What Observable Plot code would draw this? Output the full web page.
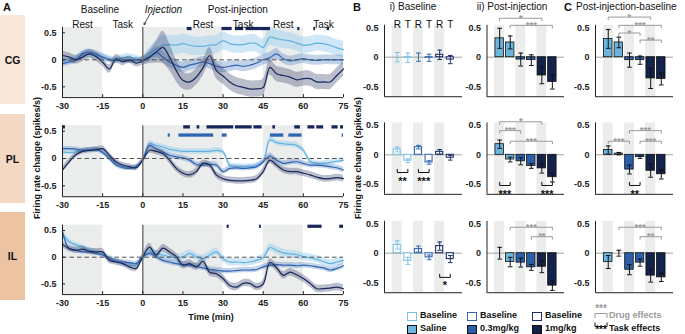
<!DOCTYPE html>
<html><head><meta charset="utf-8">
<script src="https://cdn.jsdelivr.net/npm/d3@7"></script>
<script src="https://cdn.jsdelivr.net/npm/@observablehq/plot@0.6"></script>
<style>
body{margin:0;background:#fff;}
#fig{position:relative;width:685px;height:334px;overflow:hidden;font-family:"Liberation Sans",Arial,sans-serif;color:#111;background:#fff;}
#fig .t{position:absolute;white-space:nowrap;line-height:1;}
#fig .box{position:absolute;display:flex;align-items:center;justify-content:center;font-weight:bold;font-size:10.5px;}
</style></head><body><div id="fig"></div>
<script>
// ---------------- DATA ----------------
const time = [-30,-27.5,-25,-22.5,-20,-17.5,-15,-12.5,-10,-7.5,-5,-2.5,0,2.5,5,7.5,10,12.5,15,17.5,20,22.5,25,27.5,30,32.5,35,37.5,40,42.5,45,47.5,50,52.5,55,57.5,60,62.5,65,67.5,70,72.5,75];

const cgSaline = [-0.04,-0.01,0.02,0.08,0.11,0.08,0.05,0.02,0.00,0.04,0.05,0.02,0.00, 0.11,0.20,0.27,0.28,0.27,0.30,0.27,0.25,0.25,0.27, 0.28,0.35,0.30,0.28,0.28,0.31,0.30,0.23,0.42,0.39, 0.37,0.35,0.31,0.27,0.28,0.31,0.30,0.27,0.22,0.19];
const cgSalineSem = [0.07,0.07,0.07,0.07,0.07,0.07,0.07,0.06,0.06,0.06,0.06,0.06,0.07, 0.12,0.15,0.17,0.18,0.18,0.18,0.18,0.17,0.17,0.17, 0.17,0.17,0.16,0.16,0.16,0.16,0.16,0.15,0.16,0.16, 0.16,0.15,0.15,0.15,0.15,0.15,0.15,0.15,0.15,0.15];
const cgLow = [-0.07,-0.04,-0.01,0.11,0.14,0.11,0.05,0.00,-0.01,0.00,-0.02,0.00,-0.01, 0.05,0.14,0.05,-0.04,-0.10,-0.14,-0.10,-0.07,-0.04,-0.07, -0.12,-0.14,-0.12,-0.10,-0.12,-0.10,-0.06,0.00,0.04,0.11, 0.02,-0.02,0.00,0.02,0.00,-0.01,0.00,0.00,0.00,0.00];
const cgLowSem = [0.06,0.06,0.06,0.06,0.06,0.06,0.06,0.05,0.05,0.05,0.05,0.05,0.06, 0.08,0.10,0.10,0.10,0.10,0.10,0.10,0.10,0.10,0.10, 0.10,0.10,0.10,0.10,0.10,0.10,0.10,0.10,0.10,0.10, 0.09,0.09,0.09,0.09,0.09,0.09,0.09,0.09,0.09,0.09];
const cgHigh = [0.08,0.05,0.00,0.05,0.11,0.06,-0.04,-0.17,0.02,-0.04,0.00,-0.06,-0.02, 0.05,0.14,0.23,0.05,-0.20,-0.38,-0.41,-0.32,-0.15,0.08, -0.20,-0.30,-0.41,-0.48,-0.51,-0.54,-0.54,-0.51,-0.14,-0.26, -0.29,-0.32,-0.37,-0.35,-0.35,-0.41,-0.41,-0.41,-0.29,-0.17];
const cgHighSem = [0.08,0.08,0.08,0.08,0.08,0.08,0.08,0.08,0.08,0.07,0.07,0.07,0.08, 0.12,0.20,0.30,0.25,0.20,0.16,0.15,0.15,0.15,0.15, 0.15,0.15,0.15,0.15,0.15,0.15,0.15,0.15,0.14,0.14, 0.14,0.14,0.14,0.14,0.14,0.14,0.14,0.14,0.14,0.14];

const plSaline = [0.12,0.11,0.12,0.15,0.16,0.16,0.12,0.01,-0.09,-0.15,-0.17,-0.17,-0.03, 0.27,0.24,0.21,0.17,0.15,0.13,0.13,0.13,0.13,0.13, 0.15,0.12,-0.12,-0.15,-0.15,-0.15,-0.13,-0.06,0.34,0.29, 0.27,0.26,0.24,0.15,-0.05,-0.09,-0.09,-0.07,-0.05,-0.03];
const plSalineSem = [0.05,0.04,0.04,0.04,0.04,0.04,0.04,0.04,0.04,0.04,0.04,0.04,0.04, 0.05,0.05,0.05,0.05,0.05,0.05,0.05,0.05,0.05,0.05, 0.05,0.05,0.05,0.05,0.05,0.05,0.05,0.05,0.05,0.05, 0.05,0.05,0.05,0.05,0.05,0.05,0.05,0.05,0.05,0.05];
const plLow = [0.18,0.18,0.17,0.15,0.15,0.17,0.11,0.00,-0.12,-0.17,-0.18,-0.15,-0.03, 0.24,0.18,0.12,0.06,0.03,0.01,-0.03,-0.11,-0.12,-0.11, -0.12,-0.24,-0.18,-0.17,-0.18,-0.17,-0.15,-0.06,0.05,-0.03, -0.09,-0.07,-0.06,-0.09,-0.12,-0.12,-0.13,-0.15,-0.17,-0.21];
const plLowSem = [0.04,0.04,0.04,0.04,0.04,0.04,0.04,0.04,0.04,0.04,0.04,0.04,0.04, 0.05,0.05,0.05,0.05,0.05,0.05,0.05,0.05,0.05,0.05, 0.05,0.05,0.05,0.05,0.05,0.05,0.05,0.05,0.05,0.05, 0.05,0.05,0.05,0.05,0.05,0.05,0.05,0.05,0.05,0.05];
const plHigh = [-0.21,-0.06,0.07,0.13,0.15,0.16,0.18,0.06,-0.06,-0.12,-0.15,-0.17,-0.03, 0.15,0.13,0.09,-0.03,-0.18,-0.27,-0.30,-0.24,-0.09,-0.12, -0.30,-0.37,-0.40,-0.41,-0.41,-0.40,-0.37,-0.24,-0.03,-0.12, -0.21,-0.24,-0.24,-0.27,-0.30,-0.34,-0.37,-0.37,-0.35,-0.37];
const plHighSem = [0.05,0.05,0.05,0.05,0.05,0.05,0.05,0.05,0.05,0.05,0.05,0.05,0.05, 0.06,0.06,0.06,0.06,0.06,0.06,0.06,0.06,0.06,0.06, 0.06,0.06,0.06,0.06,0.06,0.06,0.06,0.06,0.06,0.06, 0.06,0.06,0.06,0.06,0.06,0.06,0.06,0.06,0.06,0.06];

const ilSaline = [0.44,0.29,0.23,0.19,0.13,0.10,0.04,-0.01,-0.06,-0.12,-0.15,-0.15,-0.03, 0.10,0.07,0.04,0.01,-0.01,0.01,0.07,0.01,-0.03,0.04, 0.10,-0.03,-0.09,-0.09,-0.10,-0.09,-0.06,-0.01,0.18,0.13, 0.08,0.06,0.05,0.01,-0.01,-0.04,-0.08,-0.12,-0.09,-0.06];
const ilSalineSem = [0.06,0.06,0.05,0.05,0.05,0.05,0.05,0.05,0.05,0.05,0.05,0.05,0.05, 0.07,0.07,0.07,0.07,0.07,0.07,0.07,0.07,0.07,0.07, 0.07,0.07,0.07,0.07,0.07,0.07,0.07,0.07,0.07,0.07, 0.07,0.07,0.07,0.07,0.07,0.07,0.07,0.07,0.07,0.07];
const ilLow = [0.48,0.16,0.13,0.10,0.10,0.07,0.04,-0.03,-0.08,-0.09,-0.10,-0.12,0.01, 0.07,0.01,-0.06,-0.09,-0.12,-0.14,-0.15,-0.17,-0.20,-0.23, -0.24,-0.26,-0.26,-0.25,-0.24,-0.24,-0.23,-0.18,-0.15,-0.14, -0.15,-0.15,-0.16,-0.15,-0.16,-0.18,-0.20,-0.24,-0.21,-0.16];
const ilLowSem = [0.05,0.04,0.04,0.04,0.04,0.04,0.04,0.04,0.04,0.04,0.04,0.04,0.04, 0.05,0.05,0.05,0.05,0.05,0.05,0.05,0.05,0.05,0.05, 0.05,0.05,0.05,0.05,0.05,0.05,0.05,0.05,0.05,0.05, 0.05,0.05,0.05,0.05,0.05,0.05,0.05,0.05,0.05,0.05];
const ilHigh = [0.24,0.16,0.13,0.15,0.11,0.10,0.10,-0.06,-0.09,-0.12,-0.18,-0.21,0.01, 0.19,0.04,0.17,0.10,0.01,-0.15,-0.12,-0.18,-0.08,-0.28, -0.31,-0.40,-0.53,-0.56,-0.49,-0.49,-0.56,-0.50,-0.10,-0.20, -0.34,-0.28,-0.33,-0.40,-0.49,-0.59,-0.59,-0.58,-0.56,-0.59];
const ilHighSem = [0.06,0.06,0.06,0.06,0.06,0.06,0.06,0.06,0.06,0.06,0.06,0.06,0.06, 0.07,0.07,0.07,0.07,0.07,0.07,0.07,0.07,0.07,0.07, 0.07,0.07,0.07,0.07,0.07,0.07,0.07,0.07,0.07,0.07, 0.07,0.07,0.07,0.07,0.07,0.07,0.07,0.07,0.07,0.07];

const restPeriods = [[-30,-15],[0,30],[45,60]];
const phaseLabels = ["Rest","Task","Rest","Task","Rest","Task"];
const phaseCenters = [-22.5,-7.5,22.5,37.5,52.5,67.5];
const epochLabels = ["Baseline","Post-injection"];
const epochCenters = [-16,35.5];
const xTicksA = [-30,-15,0,15,30,45,60,75];
const yTicks = [-0.5,0,0.5];

// significance segments [start, end] (min)
const cgSigHigh = [[16.6,18.4],[29.6,33.4],[34.6,37.7],[38.6,47.7],[57.9,58.7],[63.9,64.6],[68.9,69.8]];
const cgSigLow = [];
const plSigHigh = [[-30,-28.9],[15.3,17.8],[20.3,21.3],[24,34],[34.6,40.9],[41.5,44.6],[48.6,49.6],[56.8,58.9],[61.7,64.3],[65,67.6],[70.7,73],[73.9,75]];
const plSigLow = [[9.5,10.3],[13.5,26.5],[29.7,31.5],[47.7,52.7],[54.6,59.5],[74.5,75]];
const ilSigHigh = [[31.5,32.3],[43.6,44.3],[61.7,67],[73.6,75]];
const ilSigLow = [];

// Bar charts: order = Saline R, Saline T, 0.3 R, 0.3 T, 1mg R, 1mg T
const barLetters = ["R","T","R","T","R","T"];
const barGroup = [0,0,1,1,2,2];
const baseCG = [0.00,-0.01,0.00,-0.01,0.04,-0.04], baseCGsem = [0.08,0.08,0.07,0.06,0.08,0.07];
const basePL = [0.09,-0.10,0.13,-0.13,0.05,-0.05], basePLsem = [0.04,0.03,0.03,0.03,0.04,0.04];
const baseIL = [0.14,-0.13,0.07,-0.07,0.12,-0.10], baseILsem = [0.07,0.06,0.05,0.04,0.07,0.06];
const postCG = [0.32,0.25,-0.04,-0.05,-0.31,-0.42], postCGsem = [0.17,0.11,0.11,0.09,0.14,0.12];
const postPL = [0.18,-0.08,-0.11,-0.19,-0.23,-0.38], postPLsem = [0.07,0.04,0.06,0.04,0.08,0.08];
const postIL = [0.00,-0.15,-0.16,-0.24,-0.23,-0.55], postILsem = [0.10,0.08,0.075,0.05,0.10,0.08];
const diffCG = [0.31,0.25,-0.05,-0.05,-0.36,-0.37], diffCGsem = [0.16,0.09,0.12,0.07,0.17,0.10];
const diffPL = [0.08,0.02,-0.25,-0.04,-0.27,-0.33], diffPLsem = [0.07,0.02,0.075,0.02,0.11,0.08];
const diffIL = [-0.15,0.00,-0.28,-0.16,-0.38,-0.41], diffILsem = [0.11,0.05,0.085,0.06,0.11,0.07];

// drug-effect brackets: [column, row, barA, barB, level, stars]
const drugBrackets = [
  [1,0,0,4,0.66,"*"],[1,0,1,5,0.54,"***"],
  [2,0,0,4,0.68,"*"],[2,0,1,5,0.54,"***"],[2,0,1,3,0.41,"*"],[2,0,3,5,0.29,"**"],
  [1,1,0,4,0.56,"*"],[1,1,0,2,0.41,"***"],[1,1,1,5,0.23,"***"],
  [2,1,2,5,0.41,"***"],[2,1,0,2,0.23,"***"],[2,1,3,5,0.23,"***"],
  [1,2,1,5,0.44,"***"],[1,2,3,5,0.28,"**"],
  [2,2,1,5,0.44,"***"],[2,2,3,5,0.28,"**"]
];
// task-effect brackets: [column, row, barA, barB, level, stars]
const taskBrackets = [
  [0,1,0,1,-0.30,"**"],[0,1,2,3,-0.30,"***"],[0,2,4,5,-0.41,"*"],
  [1,1,0,1,-0.52,"***"],[1,1,4,5,-0.52,"***"],[2,1,2,3,-0.52,"**"]
];
const regionNames = ["CG","PL","IL"];
const legendGroups = ["Saline","0.3mg/kg","1mg/kg"];

// ---------------- STYLE ----------------
const FONT = "'Liberation Sans', Arial, sans-serif";
const lineColor = ["#62b2de","#2f64b0","#17275a"];
const bandColor = ["#9fd0ee","#5f8cc8","#3a4670"];
const bandOpacity = [0.5,0.38,0.35];
const fillColor = ["#6cb5de","#2c5fa9","#13234b"];
const openColor = ["#7cc2e8","#3468b2","#1d3166"];
const greyBg = "#ebecec";
const fmt = d => d === 0 ? "0" : String(d);

const fig = document.getElementById("fig");
function add(svg){ svg.style.position="absolute"; svg.style.left="0px"; svg.style.top="0px"; svg.style.overflow="visible"; svg.style.background="transparent"; fig.appendChild(svg); }
function txt(s, x, y, css){ const d=document.createElement("div"); d.className="t"; d.textContent=s; d.style.left=x+"px"; d.style.top=y+"px"; Object.assign(d.style, css||{}); fig.appendChild(d); return d; }

// left region boxes
const boxY = [[15,104],[114,203],[212,300]];
const boxCol = ["#f7e7db","#f3d8c3","#ecc4a4"];
regionNames.forEach((n,i)=>{ const d=document.createElement("div"); d.className="box"; d.textContent=n;
  Object.assign(d.style,{left:"0px",top:boxY[i][0]+"px",width:"25px",height:(boxY[i][1]-boxY[i][0])+"px",background:boxCol[i]}); fig.appendChild(d); });

// ---------------- PANEL A ----------------
const aLeft = 62, aRight = 343, aZero = [59.3,158,256.7], aK = [54,54.6,53.4], aDom = [-0.7,0.6];
const regionSeries = [
  [[cgSaline,cgSalineSem],[cgLow,cgLowSem],[cgHigh,cgHighSem]],
  [[plSaline,plSalineSem],[plLow,plLowSem],[plHigh,plHighSem]],
  [[ilSaline,ilSalineSem],[ilLow,ilLowSem],[ilHigh,ilHighSem]]
];
const regionSig = [[cgSigHigh,cgSigLow],[plSigHigh,plSigLow],[ilSigHigh,ilSigLow]];
const sigLevel = [0.57,0.42];

for (let r=0;r<3;r++){
  const top = aZero[r]-aDom[1]*aK[r], bottom = aZero[r]-aDom[0]*aK[r];
  const fh = bottom-top, fw = aRight-aLeft;
  const marks = [
    Plot.rect(restPeriods,{x1:d=>d[0],x2:d=>d[1],fill:greyBg})
  ];
  regionSeries[r].forEach(([m,e],g)=>{
    const rows = time.map((t,i)=>({t, m:m[i], lo:m[i]-e[i], hi:m[i]+e[i]}));
    marks.push(Plot.area(rows,{x1:"t",y1:"lo",y2:"hi",fill:bandColor[g],fillOpacity:bandOpacity[g],curve:"catmull-rom"}));
    marks.push(Plot.line(rows,{x:"t",y:"m",stroke:lineColor[g],strokeWidth:1.2,curve:"catmull-rom"}));
  });
  marks.push(Plot.ruleY([0],{stroke:"#555",strokeWidth:1,strokeDasharray:"4.5,3"}));
  marks.push(Plot.ruleX([0],{stroke:"#6d6d6d",strokeWidth:1.4}));
  regionSig[r].forEach((segs,k)=>{
    marks.push(Plot.rect(segs,{x1:d=>d[0],x2:d=>Math.min(d[1],75),y1:sigLevel[k]-0.03,y2:sigLevel[k]+0.03,fill:k===0?lineColor[2]:lineColor[1]}));
  });
  marks.push(Plot.ruleX([-30],{stroke:"#222",strokeWidth:1}));
  marks.push(Plot.ruleY([aDom[0]],{stroke:"#222",strokeWidth:1}));
  marks.push(Plot.ruleX(xTicksA,{x:d=>d,insetTop:fh-3,stroke:"#222"}));
  marks.push(Plot.ruleY(yTicks,{y:d=>d,insetRight:fw-3,stroke:"#222"}));
  if (r===0){
    marks.push(Plot.text(phaseCenters,{x:d=>d,text:(d,i)=>phaseLabels[i],frameAnchor:"top",dy:-7,fontSize:10,fontWeight:"normal",fill:"#111"}));
    marks.push(Plot.text(epochCenters,{x:d=>d,text:(d,i)=>epochLabels[i],frameAnchor:"top",dy:-21.5,fontSize:10,fontWeight:"normal",fill:"#111"}));
    marks.push(Plot.text(["Injection"],{x:7.7,text:d=>d,frameAnchor:"top",dy:-21.5,fontSize:10,fontWeight:"normal",fontStyle:"italic",fill:"#111"}));
    marks.push(Plot.arrow([0],{x1:2.9,y1:0.87,x2:0.5,y2:0.65,stroke:"#222",strokeWidth:0.8,headLength:4}));
  }
  add(Plot.plot({
    width:685,height:334,marginLeft:aLeft,marginRight:685-aRight,marginTop:top,marginBottom:334-bottom,
    x:{domain:[-30,75],ticks:xTicksA,tickSize:0,tickPadding:5,tickFormat:fmt,label:null},
    y:{domain:aDom,ticks:yTicks,tickSize:0,tickPadding:6,tickFormat:fmt,label:null},
    style:{fontFamily:FONT,fontSize:"9px",fontWeight:"bold",color:"#222",background:"transparent",overflow:"visible"},
    marks
  }));
}

// ---------------- PANELS B / C ----------------
const barK = 59, barZero = [56.7,154.3,252.7], barDom = [-0.67,0.54];
const colLeft = [384,486.5,595], colRight = [462,564,673], barXDom = [-1.2,6.15];
const barData = [
  [[baseCG,baseCGsem],[basePL,basePLsem],[baseIL,baseILsem]],
  [[postCG,postCGsem],[postPL,postPLsem],[postIL,postILsem]],
  [[diffCG,diffCGsem],[diffPL,diffPLsem],[diffIL,diffILsem]]
];
for (let c=0;c<3;c++) for (let r=0;r<3;r++){
  const [m,e] = barData[c][r];
  const rows = m.map((v,i)=>({pos:i,m:v,lo:v-e[i],hi:v+e[i],g:barGroup[i]}));
  const open = c===0;
  const hw = open?0.33:0.4;
  const top = barZero[r]-barDom[1]*barK, bottom = barZero[r]-barDom[0]*barK;
  const marks = [
    Plot.rect([0,2,4],{x1:d=>d-0.47,x2:d=>d+0.47,fill:greyBg}),
    Plot.ruleY([0],{stroke:"#999",strokeWidth:0.9}),
    Plot.rect(rows.filter(d=>d.m!==0),{x1:d=>d.pos-hw,x2:d=>d.pos+hw,y1:0,y2:"m",
      fill:open?"white":d=>fillColor[d.g],stroke:open?d=>openColor[d.g]:"#111",strokeWidth:open?1.1:0.8}),
    Plot.ruleX(rows,{x:"pos",y1:"lo",y2:"hi",stroke:open?d=>openColor[d.g]:"#111",strokeWidth:1}),
    Plot.link(rows,{x1:d=>d.pos-0.22,x2:d=>d.pos+0.22,y1:"lo",y2:"lo",stroke:open?d=>openColor[d.g]:"#111",strokeWidth:1}),
    Plot.link(rows,{x1:d=>d.pos-0.22,x2:d=>d.pos+0.22,y1:"hi",y2:"hi",stroke:open?d=>openColor[d.g]:"#111",strokeWidth:1}),
    Plot.ruleX([barXDom[0]],{stroke:"#222",strokeWidth:1}),
    Plot.ruleY([barDom[0]],{stroke:"#222",strokeWidth:1})
  ];
  const db = drugBrackets.filter(d=>d[0]===c&&d[1]===r);
  const tb = taskBrackets.filter(d=>d[0]===c&&d[1]===r);
  if (db.length){
    marks.push(Plot.link(db,{x1:d=>d[2],x2:d=>d[3],y1:d=>d[4],y2:d=>d[4],stroke:"#9a9a9a",strokeWidth:1}));
    marks.push(Plot.link(db,{x1:d=>d[2],x2:d=>d[2],y1:d=>d[4],y2:d=>d[4]-0.05,stroke:"#9a9a9a",strokeWidth:1}));
    marks.push(Plot.link(db,{x1:d=>d[3],x2:d=>d[3],y1:d=>d[4],y2:d=>d[4]-0.05,stroke:"#9a9a9a",strokeWidth:1}));
    marks.push(Plot.text(db,{x:d=>(d[2]+d[3])/2,y:d=>d[4],text:d=>d[5],fill:"#9a9a9a",fontSize:9.5,fontWeight:"bold",dy:-0.5}));
  }
  if (tb.length){
    marks.push(Plot.link(tb,{x1:d=>d[2],x2:d=>d[3],y1:d=>d[4],y2:d=>d[4],stroke:"#111",strokeWidth:1}));
    marks.push(Plot.link(tb,{x1:d=>d[2],x2:d=>d[2],y1:d=>d[4],y2:d=>d[4]+0.06,stroke:"#111",strokeWidth:1}));
    marks.push(Plot.link(tb,{x1:d=>d[3],x2:d=>d[3],y1:d=>d[4],y2:d=>d[4]+0.06,stroke:"#111",strokeWidth:1}));
    marks.push(Plot.text(tb,{x:d=>(d[2]+d[3])/2,y:d=>d[4],text:d=>d[5],fill:"#111",fontSize:11,fontWeight:"bold",dy:8.5}));
  }
  if (c===0 && r===0){
    marks.push(Plot.text(rows,{x:"pos",text:(d,i)=>barLetters[i],frameAnchor:"top",dy:-4,fontSize:10,fontWeight:"normal",fill:"#111"}));
  }
  add(Plot.plot({
    width:685,height:334,marginLeft:colLeft[c],marginRight:685-colRight[c],marginTop:top,marginBottom:334-bottom,
    x:{domain:barXDom,axis:null},
    y:{domain:barDom,ticks:yTicks,tickSize:0,tickPadding:6,tickFormat:fmt,label:null},
    color:{type:"identity"},
    style:{fontFamily:FONT,fontSize:"9px",fontWeight:"bold",color:"#222",background:"transparent",overflow:"visible"},
    marks
  }));
}

// ---------------- TEXT ----------------
txt("A",3,2,{fontWeight:"bold",fontSize:"11px"});
txt("B",353,2,{fontWeight:"bold",fontSize:"11px"});
txt("C",564,2,{fontWeight:"bold",fontSize:"11px"});
txt("i) Baseline",413,2,{fontSize:"10px",transform:"translateX(-50%)"});
txt("ii) Post-injection",512,2,{fontSize:"10px",transform:"translateX(-50%)"});
txt("Post-injection-baseline",576,2,{fontSize:"10px"});
txt("Firing rate change (spikes/s)",37,158,{fontSize:"9px",fontWeight:"bold",transform:"translate(-50%,-50%) rotate(-90deg)"});
txt("Firing rate change (spikes/s)",358,158,{fontSize:"9px",fontWeight:"bold",transform:"translate(-50%,-50%) rotate(-90deg)"});
txt("Time (min)",211,317,{fontSize:"9px",fontWeight:"bold",transform:"translate(-50%,-50%)"});

// ---------------- LEGEND ----------------
const legX = [406.5,466.5,531.5];
legendGroups.forEach((lab,g)=>{
  [["Baseline",316,true],[lab,329,false]].forEach(([s,y,op])=>{
    const b=document.createElement("div");
    Object.assign(b.style,{position:"absolute",left:legX[g]+"px",top:(y-4.5)+"px",width:"8px",height:"7px",
      border:"1.2px solid "+(op?openColor[g]:"#111"),background:op?"#fff":fillColor[g]});
    fig.appendChild(b);
    txt(s,legX[g]+13.5,y-5,{fontSize:"9px",fontWeight:"bold"});
  });
});
const ns="http://www.w3.org/2000/svg";
const lg=document.createElementNS(ns,"svg");
lg.setAttribute("width","20");lg.setAttribute("height","32");
Object.assign(lg.style,{position:"absolute",left:"592px",top:"301px",overflow:"visible"});
lg.innerHTML=`<text x="9" y="11" text-anchor="middle" font-size="10" font-weight="bold" fill="#9a9a9a" font-family="Liberation Sans, Arial">***</text>
<path d="M3,17 V12.5 H15 V17" fill="none" stroke="#9a9a9a" stroke-width="1"/>
<path d="M3,21.5 V25.5 H15 V21.5" fill="none" stroke="#111" stroke-width="1"/>
<text x="9" y="32" text-anchor="middle" font-size="10" font-weight="bold" fill="#111" font-family="Liberation Sans, Arial">***</text>`;
fig.appendChild(lg);
txt("Drug effects",609,311,{fontSize:"9px",fontWeight:"bold",color:"#9a9a9a"});
txt("Task effects",609,324,{fontSize:"9px",fontWeight:"bold"});
</script></body></html>
